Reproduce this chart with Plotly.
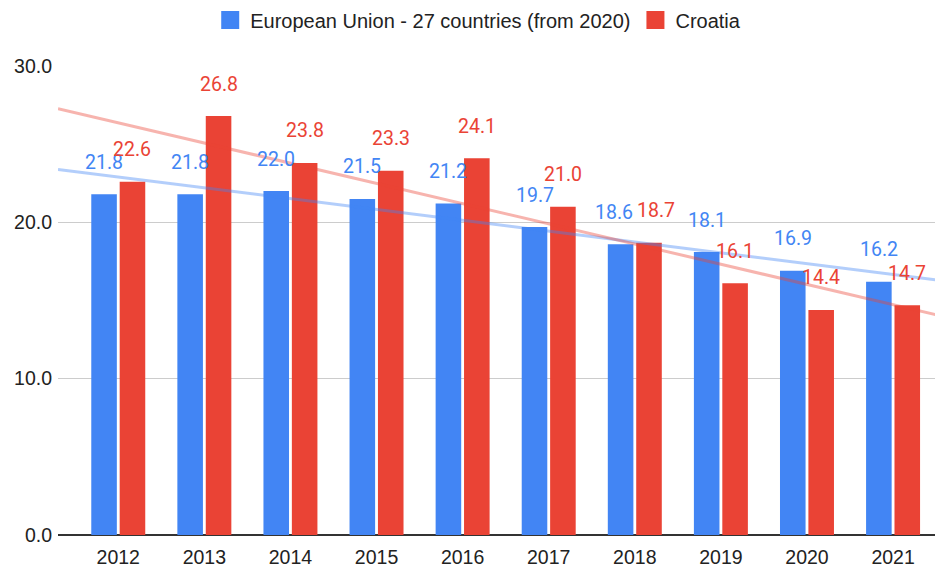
import numpy as np
import plotly.graph_objects as go

years = ["2012", "2013", "2014", "2015", "2016", "2017", "2018", "2019", "2020", "2021"]
eu_values = [21.8, 21.8, 22.0, 21.5, 21.2, 19.7, 18.6, 18.1, 16.9, 16.2]
hr_values = [22.6, 26.8, 23.8, 23.3, 24.1, 21.0, 18.7, 16.1, 14.4, 14.7]

EU_NAME = "European Union - 27 countries (from 2020)"
HR_NAME = "Croatia"
EU_COLOR = "#4285F4"
HR_COLOR = "#EA4335"
AXIS_FONT = "Liberation Sans, Arial, sans-serif"
LABEL_FONT = "Roboto, Arial, sans-serif"

x = np.arange(len(years))
x_range = [-0.70, 9.58]

fig = go.Figure()

fig.add_trace(go.Bar(x=x, y=eu_values, name=EU_NAME, showlegend=False,
                     marker=dict(color=EU_COLOR, line=dict(width=0)), hoverinfo="y"))
fig.add_trace(go.Bar(x=x, y=hr_values, name=HR_NAME, showlegend=False,
                     marker=dict(color=HR_COLOR, line=dict(width=0)), hoverinfo="y"))

# linear trend lines across the whole plot
for vals, color in [(eu_values, "rgba(66,133,244,0.4)"), (hr_values, "rgba(234,67,53,0.4)")]:
    slope, intercept = np.polyfit(x, vals, 1)
    xs = np.array(x_range)
    fig.add_trace(go.Scatter(x=xs, y=slope * xs + intercept, mode="lines",
                             line=dict(color=color, width=3),
                             showlegend=False, hoverinfo="skip"))

# legend entries with bigger square swatches
for name, color in [(EU_NAME, EU_COLOR), (HR_NAME, HR_COLOR)]:
    fig.add_trace(go.Scatter(x=[None], y=[None], mode="markers", name=name,
                             marker=dict(symbol="square", size=16, color=color,
                                         line=dict(color=color, width=2))))

# value labels above the bars; push apart when the pair would collide
for i, (ev, hv) in enumerate(zip(eu_values, hr_values)):
    close = abs(ev - hv) < 0.5
    for v, color, off, anchor in [(ev, EU_COLOR, -0.165, "right"), (hv, HR_COLOR, 0.165, "left")]:
        fig.add_annotation(x=i if close else i + off, y=v, text=f"{v:.1f}", showarrow=False,
                           xanchor=anchor if close else "center",
                           yanchor="middle", yshift=32,
                           font=dict(color=color, size=19.5, family=LABEL_FONT))

# page body has an 8px margin, so the figure is 8px smaller
fig.update_layout(
    width=935,
    height=561,
    paper_bgcolor="white",
    plot_bgcolor="white",
    margin=dict(l=50, r=0, t=58, b=34, autoexpand=False),
    barmode="group",
    bargap=0.34,
    bargroupgap=0.1,
    font=dict(family=AXIS_FONT, size=19.5, color="#222222"),
    legend=dict(orientation="h", x=0.172, xanchor="left", y=1.098, yanchor="middle",
                font=dict(size=20, color="#222222"), itemwidth=30),
    xaxis=dict(range=x_range, tickmode="array", tickvals=x, ticktext=years,
               showgrid=False, zeroline=False, showline=False, ticks="",
               ticklabelstandoff=8, tickfont=dict(size=19.5, color="#222222")),
    yaxis=dict(range=[0, 30], dtick=10, tickformat=".1f", showgrid=True,
               gridcolor="#cccccc", gridwidth=1, zeroline=True, zerolinecolor="#333333",
               zerolinewidth=1.5, ticks="", ticklabelstandoff=5,
               tickfont=dict(size=19.5, color="#222222")),
)

fig.write_html("out.html")
